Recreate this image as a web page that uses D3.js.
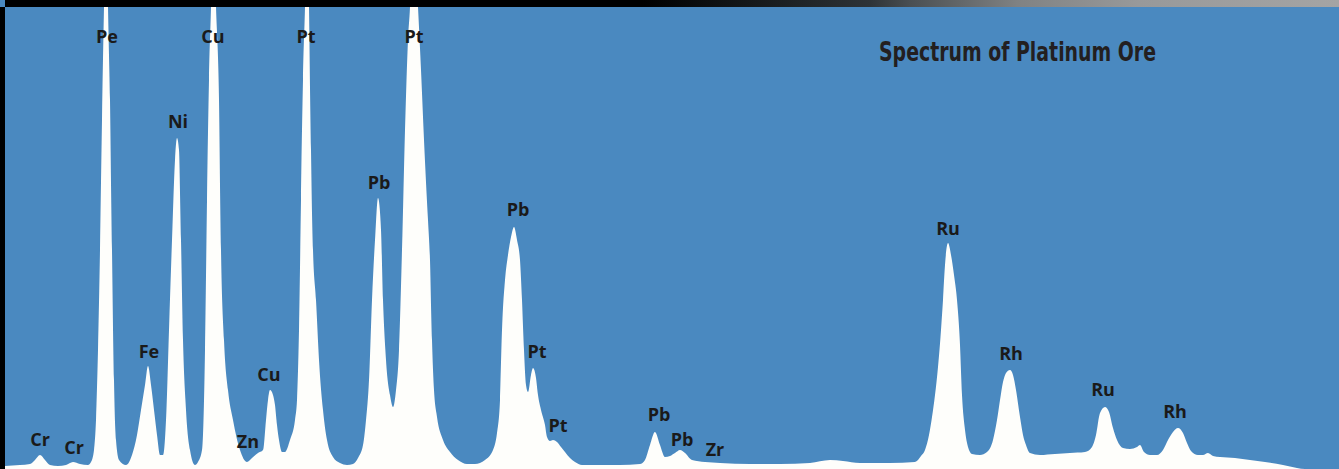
<!DOCTYPE html>
<html>
<head>
<meta charset="utf-8">
<script src="https://cdn.jsdelivr.net/npm/d3@7"></script>
<style>
  body { margin: 0; background: #4a89c0; }
  svg { display: block; }
</style>
</head>
<body>
<script>
// spectrum profile, channel vs counts
var channel = [5, 20, 30, 35, 40, 45, 50, 58, 66, 73, 80, 88,
  91, 94, 96, 98, 100, 102, 104, 106, 108, 110, 112, 114, 116, 119,
  126, 132, 137, 141, 145, 148, 151, 154, 157, 160,
  163, 166, 169, 172, 175, 177, 179, 181, 183, 186, 190, 195,
  198, 202, 205, 207, 209, 211, 213, 216, 219, 221, 224, 228, 233, 240, 247,
  252, 258, 263, 266, 268, 270, 273, 275, 277, 279, 282,
  285, 290, 295, 297, 299, 301, 303, 305, 307, 309, 311, 313, 316, 319, 323, 327, 333, 340, 347,
  353, 358, 363, 366, 369, 372, 375, 378, 381, 383, 386, 390, 393,
  396, 399, 402, 405, 408, 410, 413, 418, 421, 424, 428, 430, 432, 434, 437, 443, 450, 458, 467,
  475, 485, 493, 497, 500, 502, 505, 508, 511, 514, 517, 520, 522, 524, 526, 528,
  531, 533, 536, 538, 541, 545, 547, 550, 553, 557, 561, 565, 570, 575, 582,
  600, 620, 640, 645, 650, 655, 660, 665, 670, 675, 680, 685, 692, 705, 720,
  750, 780, 810, 830, 843, 860, 890,
  915, 921, 925, 929, 932, 935, 938, 941, 943, 945, 948, 951, 954, 957, 960, 962, 965, 968, 972, 980,
  987, 993, 997, 1000, 1003, 1006, 1010, 1013, 1016, 1020, 1023, 1026, 1030, 1040, 1055, 1070, 1085,
  1092, 1096, 1100, 1105, 1109, 1113, 1117, 1123, 1130, 1137, 1140, 1144, 1150, 1157,
  1163, 1168, 1173, 1178, 1183, 1187, 1191, 1198, 1203, 1208, 1213, 1220, 1235, 1250, 1265, 1283, 1297, 1305, 1339];

var counts = [3, 4, 5, 9, 14, 9, 4, 3, 4, 7, 5, 4,
  7, 19, 49, 119, 219, 349, 462, 560, 462, 369, 219, 89, 29, 9,
  4, 14, 34, 59, 84, 103, 84, 59, 34, 14,
  14, 49, 139, 229, 309, 331, 319, 229, 129, 59, 19, 4,
  7, 19, 119, 269, 389, 462, 560, 462, 369, 219, 129, 79, 49, 19, 7,
  11, 16, 19, 49, 69, 79, 74, 64, 44, 29, 17,
  17, 29, 49, 69, 139, 269, 389, 462, 560, 462, 319, 219, 169, 109, 59, 29, 12, 6, 4,
  5, 11, 24, 49, 89, 169, 229, 271, 239, 169, 109, 74, 62,
  79, 119, 219, 339, 429, 462, 560, 462, 399, 329, 249, 209, 129, 79, 52, 29, 17, 9, 5,
  5, 9, 19, 36, 69, 139, 189, 214, 232, 242, 229, 209, 169, 119, 84, 77,
  94, 101, 91, 74, 59, 44, 32, 28, 29, 27, 22, 17, 11, 7, 4,
  4, 4, 5, 9, 24, 37, 24, 12, 13, 16, 19, 16, 9, 7, 6,
  5, 5, 6, 9, 8, 6, 6,
  7, 13, 19, 34, 52, 74, 102, 139, 169, 204, 226, 214, 194, 169, 124, 74, 39, 22, 15, 14,
  17, 29, 49, 69, 87, 96, 99, 94, 79, 52, 34, 24, 16, 14, 15, 16, 17,
  22, 34, 56, 62, 57, 41, 29, 21, 20, 22, 24, 17, 14, 14,
  19, 29, 37, 41, 36, 26, 18, 14, 14, 16, 13, 12, 11, 9, 7, 4, 1, 0, 0];

// peak labels: element, channel, count level of the label baseline
var peakNames = ["Cr", "Cr", "Pe", "Fe", "Ni", "Cu", "Zn", "Cu", "Pt", "Pb", "Pt",
  "Pb", "Pt", "Pt", "Pb", "Pb", "Zr", "Ru", "Rh", "Ru", "Rh"];
var peakX = [40, 74, 107, 149, 178, 213, 248, 269, 306, 379, 414,
  518, 537, 558, 659, 682, 715, 948, 1011, 1103, 1175];
var peakLevel = [23, 15, 426, 111, 341, 426, 21, 88, 426, 280, 426,
  253, 111, 37, 48, 23, 13, 234, 109, 73, 51];

var title = "Spectrum of Platinum Ore";

var width = 1339;
var height = 469;

var x = d3.scaleLinear().domain([0, 1339]).range([0, width]);
var y = d3.scaleLinear().domain([0, 462]).range([height, 7]);

var svg = d3.select("body")
  .append("svg")
  .attr("width", width)
  .attr("height", height);

svg.append("rect")
  .attr("width", width)
  .attr("height", height)
  .attr("fill", "#4a89c0");

var points = channel.map(function(c, i) { return [c, counts[i]]; });

var area = d3.area()
  .x(function(d) { return x(d[0]); })
  .y0(y(0))
  .y1(function(d) { return y(d[1]); })
  .curve(d3.curveMonotoneX);

svg.append("path")
  .datum(points)
  .attr("d", area)
  .attr("fill", "#fefefb");

// header strip with grey fade on the right
var grad = svg.append("defs").append("linearGradient")
  .attr("id", "topfade");
[[0, "#000"], [0.48, "#000"], [0.56, "#15181a"], [0.65, "#2e3337"],
 [0.68, "#4a4f52"], [0.76, "#808283"], [0.85, "#98999a"], [1, "#a4a4a4"]].forEach(function(s) {
  grad.append("stop").attr("offset", s[0]).attr("stop-color", s[1]);
});

svg.append("rect")
  .attr("width", width)
  .attr("height", 7)
  .attr("fill", "url(#topfade)");

svg.append("rect")
  .attr("y", 7)
  .attr("width", 5)
  .attr("height", height - 7)
  .attr("fill", "#000");

svg.append("rect")
  .attr("width", 5)
  .attr("height", 7)
  .attr("fill", "#4a89c0");

svg.selectAll("text.peak")
  .data(peakNames)
  .enter()
  .append("text")
  .attr("class", "peak")
  .text(function(d) { return d; })
  .attr("x", function(d, i) { return x(peakX[i]); })
  .attr("y", function(d, i) { return y(peakLevel[i]); })
  .attr("text-anchor", "middle")
  .attr("font-family", "'Open Sans', sans-serif")
  .attr("font-weight", "bold")
  .attr("font-size", "18px")
  .attr("fill", "#1a1a1a");

svg.append("text")
  .text(title)
  .attr("x", 879)
  .attr("y", 61)
  .attr("textLength", 277)
  .attr("lengthAdjust", "spacingAndGlyphs")
  .attr("font-family", "'Liberation Sans Narrow', 'DejaVu Sans Condensed', sans-serif")
  .attr("font-weight", "bold")
  .attr("font-size", "27px")
  .attr("fill", "#231f20");
</script>
</body>
</html>
